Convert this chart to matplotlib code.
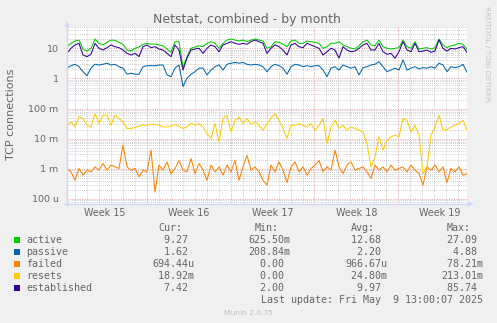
import numpy as np
import matplotlib
matplotlib.use('Agg')
import matplotlib.pyplot as plt
from matplotlib.patches import Rectangle, Polygon
from matplotlib.lines import Line2D

W, H = 497, 323

# ---- data, one sample every ~8 h over ~33.4 days ----
SAMPLE_DAYS = 0.3344
active = [11.3, 14.6, 17.5, 18.8, 9.5, 8.1, 10, 20.3, 14.6, 12.9, 15.8, 18.8, 18.4, 15.8, 13.6, 8.8, 8.1,
          10, 11, 13.6, 14.6, 13.6, 13.9, 12.9, 12.2, 9.5, 7.4, 16.6, 16.6, 2.3, 5.3, 10, 11, 12.2,
          11.3, 14.6, 16.6, 14.6, 10, 14.6, 18.8, 20.3, 18.8, 17.5, 18.8, 16.6, 18.8, 20.3, 18.8, 17.5, 10,
          11.3, 16.6, 15.8, 13.6, 11.3, 17.5, 18.8, 14.6, 14.6, 17.5, 16.6, 15.8, 14.6, 10, 11.3, 14.6,
          14.6, 16.6, 12.9, 11.3, 10, 9.5, 12.2, 16.6, 18.8, 12.9, 12.2, 18.8, 11.3, 10, 9.5, 10, 10.5,
          18.8, 11.3, 10, 16.6, 9.5, 10, 10.5, 9.5, 10.5, 20.3, 12.9, 10.5, 12.2, 12.9, 14.6, 13.6, 9.3]
passive = [2.2, 2.65, 2.95, 2.45, 1.68, 1.24, 2.2, 2.95, 2.8, 2.95, 3.2, 2.8, 2.95, 2.45, 2.2, 1.38, 1.49,
           1.38, 1.38, 2.45, 2.65, 2.65, 2.65, 2.8, 2.8, 1.31, 1.15, 2.2, 2.8, 0.54, 1.02, 1.38, 1.68, 2.2,
           2.2, 1.31, 1.9, 2.45, 2.8, 1.9, 2.95, 3.2, 3.4, 3.2, 3.4, 2.95, 2.8, 2.95, 2.8, 2.45, 1.68,
           2.45, 2.95, 2.65, 2.2, 1.38, 2.45, 2.95, 2.8, 2.45, 2.65, 2.45, 2.65, 2.65, 1.9, 1.15, 2.2,
           2.45, 1.9, 2.8, 2.45, 2.2, 2.45, 1.31, 2.28, 2.45, 2.8, 2.95, 3.6, 2.45, 1.68, 1.9, 2.2, 1.9,
           4.1, 1.9, 2.2, 2.45, 2.07, 2.28, 2.2, 2.45, 2.2, 3.2, 2.8, 1.68, 2.45, 2.28, 2.45, 2.95, 1.62]
failed_m = [1.03, 0.8, 0.42, 1.03, 0.62, 0.91, 0.8, 1.16, 0.91, 1.5, 0.91, 1.33, 1.16, 1.03, 6.1, 1.16, 0.91,
            1.03, 0.54, 0.91, 0.8, 4.2, 0.17, 1.33, 0.91, 1.7, 0.7, 1.03, 1.9, 0.91, 0.8, 2.2, 0.7, 1.5,
            0.91, 0.42, 1.33, 0.8, 1.16, 0.62, 1.33, 0.8, 1.9, 0.42, 1.16, 2.8, 0.91, 1.16, 0.8, 0.42,
            0.29, 1.33, 0.8, 1.7, 0.91, 0.35, 1.16, 1.7, 0.8, 1.16, 0.62, 1.03, 1.33, 1.9, 0.8, 1.16, 0.91,
            4.2, 1.16, 0.7, 1.33, 1.7, 0.91, 1.03, 1.16, 0.8, 0.48, 1.33, 0.91, 1.16, 0.8, 1.33, 0.91,
            1.03, 1.16, 0.8, 1.33, 0.91, 0.7, 0.29, 1.16, 0.91, 1.33, 0.8, 1.16, 0.35, 1.03, 0.8, 1.16,
            0.62, 0.69]
resets_m = [28, 36, 24.6, 53, 47, 28, 24.6, 68, 32, 60, 60, 28, 60, 47, 36, 21.8, 21.8, 23.5, 26, 28,
            28, 30, 30, 28, 24.6, 24.6, 26, 30, 26, 21.8, 24.6, 33, 28, 32, 24.6, 14.9, 10.2, 32, 7.8, 47,
            60, 16.8, 41, 53, 32, 47, 30, 36, 28, 19.1,
            32, 47, 68, 41, 21.8, 10.2, 28, 28, 32, 28, 24.6, 32, 19.1, 28, 47, 6.9, 24.6, 41, 21.8, 28,
            19.1, 24.6, 21.8, 19.1, 16.8, 6.9, 1.16, 2.5, 11.5, 4.2, 8.9, 11.5, 13.1, 11.5, 47, 41, 16.8,
            28, 13.1, 0.7, 1.16, 13.1, 24.6, 60, 19.1, 20.2, 24.6, 28, 32, 41, 18.9]
established = [6.8, 10, 12.9, 14.6, 6.0, 5.3, 6.3, 14.6, 10, 8.8, 10.5, 12.9, 11.3, 10.5, 8.8, 6.8, 6.0,
               6.8, 5.3, 11.3, 12.9, 10.5, 11.3, 9.5, 8.8, 6.8, 5.3, 12.9, 8.8, 1.9, 4.7, 8.8, 9.5, 10,
               6.8, 10, 12.9, 11.3, 7.7, 12.9, 14.6, 16.6, 14.6, 13.6, 14.6, 13.6, 16.6, 18.8, 16.6, 14.6,
               6.8, 10, 12.9, 11.3, 8.8, 6.0, 12.9, 14.6, 11.3, 10.5, 14.6, 12.9, 11.3, 10, 6.0, 7.7, 10,
               8.8, 4.7, 11.3, 8.8, 7.7, 8.1, 10, 12.9, 14.6, 8.8, 8.8, 14.6, 7.7, 6.3, 6.8, 4.7, 7.7,
               16.6, 8.8, 7.7, 14.6, 7.7, 8.1, 8.8, 7.4, 8.1, 19.0, 10, 8.1, 10, 9.5, 10.5, 11.3, 7.4]

names = ['active', 'passive', 'failed', 'resets', 'established']
colors = ['#00CC00', '#0066B3', '#FF8000', '#FFCC00', '#330099']
cur = [('9.27', ''), ('1.62', ''), ('694.44', 'u'), ('18.92', 'm'), ('7.42', '')]
mins = [('625.50', 'm'), ('208.84', 'm'), ('0.00', ''), ('0.00', ''), ('2.00', '')]
avgs = [('12.68', ''), ('2.20', ''), ('966.67', 'u'), ('24.80', 'm'), ('9.97', '')]
maxs = [('27.09', ''), ('4.88', ''), ('78.21', 'm'), ('213.01', 'm'), ('85.74', '')]
week_labels = ['Week 15', 'Week 16', 'Week 17', 'Week 18', 'Week 19']
ytick_vals = [10, 1, 0.1, 0.01, 0.001, 0.0001]
ytick_labels = ['10', '1', '100 m', '10 m', '1 m', '100 u']

FONT = '#666666'
AXISC = '#CFD6F8'

fig = plt.figure(figsize=(W / 100, H / 100), dpi=100, facecolor='#F0F0F0')
ax = fig.add_axes([67 / W, 1 - 204 / H, 400 / W, 177 / H])
ax.set_facecolor('white')

n = len(active)
t = np.arange(n) * SAMPLE_DAYS
series = [np.array(active), np.array(passive), np.array(failed_m) / 1000,
          np.array(resets_m) / 1000, np.array(established)]
for s, c in zip(series, colors):
    ax.plot(t, s, color=c, lw=0.75)

ax.set_yscale('log')
ax.set_ylim(10 ** -4.166, 10 ** 1.707)
ax.set_xlim(0, t[-1])

# grid
first_week = 6.69
week_bounds = [first_week + 7 * k for k in range(4)]
days = [first_week - 6 + d for d in range(34) if first_week - 6 + d < t[-1]]
ax.set_xticks(week_bounds)
ax.set_xticks(days, minor=True)
ax.set_xticklabels([])
ax.set_yticks(ytick_vals)
ax.set_yticklabels(ytick_labels)
ax.yaxis.set_minor_locator(matplotlib.ticker.LogLocator(base=10, subs=np.arange(2, 10), numticks=20))
ax.yaxis.set_minor_formatter(matplotlib.ticker.NullFormatter())
ax.grid(True, which='minor', color='#BEBEBE', lw=0.6, ls=(0, (1, 1.5)))
ax.grid(True, which='major', color='#E89A9A', lw=0.7, ls=(0, (1, 1.5)))
ax.set_axisbelow(True)
ax.tick_params(which='both', length=0)
ax.tick_params(axis='y', pad=6, labelsize=6.8, labelcolor=FONT)
for sp in ax.spines.values():
    sp.set_visible(False)

for k, lab in enumerate(week_labels):
    ax.text(first_week - 3.5 + 7 * k, -0.065, lab, transform=ax.get_xaxis_transform(),
            ha='center', va='baseline', fontsize=6.9, color=FONT)

def fx(x):
    return x / W

def fy(y):
    return 1 - y / H

# axis lines + arrows
fig.add_artist(Line2D([fx(67), fx(67)], [fy(205), fy(24)], color=AXISC, lw=1))
fig.add_artist(Line2D([fx(64), fx(470)], [fy(204), fy(204)], color=AXISC, lw=1))
fig.add_artist(Polygon([[fx(64.3), fy(26.5)], [fx(69.7), fy(26.5)], [fx(67), fy(21)]], closed=True,
                       color=AXISC, lw=0))
fig.add_artist(Polygon([[fx(468), fy(201.3)], [fx(468), fy(206.7)], [fx(473.5), fy(204)]], closed=True,
                       color=AXISC, lw=0))

# titles
fig.text(fx(247.4), fy(23.3), 'Netstat, combined - by month', ha='center', va='baseline',
         fontsize=9, color=FONT)
fig.text(fx(11), fy(114), 'TCP connections', ha='center', va='center', rotation=90,
         fontsize=8, color=FONT)
fig.text(fx(487.5), fy(53.5), 'RRDTOOL / TOBI OETIKER', ha='center', va='center', rotation=270,
         fontsize=5.4, color='#C4C4C4')

# legend
mono = 'DejaVu Sans Mono'
LS = 7.2
for lab, x in zip(['Cur:', 'Min:', 'Avg:', 'Max:'], [158, 254.5, 351, 447]):
    fig.text(fx(x), fy(231), lab, ha='left', va='baseline', fontsize=LS, color=FONT, family=mono)
cols = [(152, cur), (248, mins), (345, avgs), (441, maxs)]
for i, (nm, c) in enumerate(zip(names, colors)):
    yb = 243.3 + 12 * i
    fig.add_artist(Rectangle((fx(14), fy(yb - 0.5)), 6 / W, 6 / H, color=c, lw=0))
    fig.text(fx(26.5), fy(yb), nm, ha='left', va='baseline', fontsize=LS, color=FONT, family=mono)
    for x, vals in cols:
        num, suf = vals[i]
        fig.text(fx(x), fy(yb), f'{num:>6}{suf}', ha='left', va='baseline', fontsize=LS,
                 color=FONT, family=mono)
fig.text(fx(261.3), fy(303.3), 'Last update: Fri May  9 13:00:07 2025', ha='left', va='baseline',
         fontsize=LS, color=FONT, family=mono)
fig.text(fx(248), fy(315), 'Munin 2.0.75', ha='center', va='baseline', fontsize=5.4, color='#C0C0C0')

fig.savefig('out.png', dpi=100, facecolor=fig.get_facecolor())
